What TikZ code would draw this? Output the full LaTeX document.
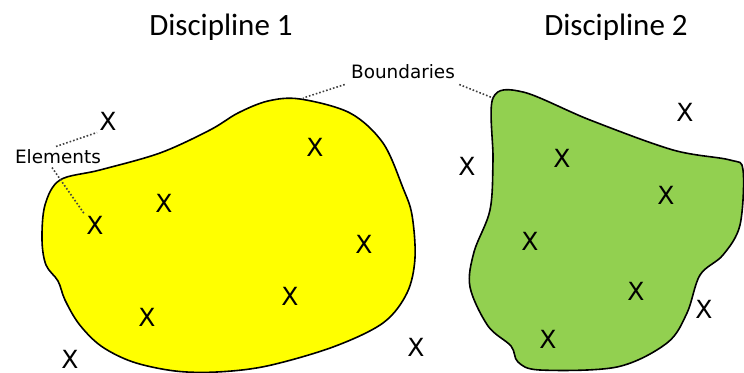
\documentclass[tikz,border=0pt]{standalone}
\usepackage{fontspec}
\setmainfont{Carlito}
\newfontfamily\labelfont{DejaVu Sans}
\usepackage{tikz}
\definecolor{blobYellow}{RGB}{255, 255, 0}
\definecolor{blobGreen}{RGB}{146, 208, 80}

\begin{document}
\begin{tikzpicture}[x=0.5pt, y=-0.5pt,
    elem/.style={font=\labelfont\fontsize{12.5}{14}\selectfont, inner sep=1pt},
    note/.style={font=\labelfont\fontsize{9.2}{11}\selectfont, inner sep=1pt},
    title/.style={font=\fontsize{15.5}{18}\selectfont},
    pointer/.style={densely dotted, thick, black!75}]
        \useasboundingbox (0,0) rectangle (744,373);
        % the two regions
        \draw[fill=blobYellow, thick] plot[smooth cycle, tension=0.55] coordinates {
            (60,180) (45,205) (42,240) (46,265) (58,281) (65,300) (79,324)
            (101,346) (133,362) (175,371) (217,372) (267,366) (333,347) (383,323)
            (407,293) (415,258) (412,215) (403,188) (383,143) (350,113) (300,99)
            (268,101) (238,113) (210,130) (160,153) (100,170)};
        \draw[fill=blobGreen, thick] plot[smooth cycle, tension=0.55] coordinates {
            (493,98) (523,92) (590,120) (673,150) (730,160) (743,170) (740,225)
            (723,255) (700,275) (687,313) (667,343) (617,367) (540,370) (518,362)
            (511,346) (488,326) (470,287) (474,252) (490,210) (493,160)};
        % points on the boundaries
        \coordinate (edgeA) at (303,98);
        \coordinate (edgeB) at (493,98);
        % titles
        \node[title] (disc1) at (221,27) {Discipline 1};
        \node[title] (disc2) at (616,27) {Discipline 2};
        % elements
        \node[elem] (a1) at (108,121) {X};
        \node[elem] (a2) at (315,147) {X};
        \node[elem] (a3) at (164,203) {X};
        \node[elem] (a4) at (95,225) {X};
        \node[elem] (a5) at (364,244) {X};
        \node[elem] (a6) at (290,296) {X};
        \node[elem] (a7) at (147,317) {X};
        \node[elem] (a8) at (70,359) {X};
        \node[elem] (a9) at (416,347) {X};
        \node[elem] (b1) at (467,166) {X};
        \node[elem] (b2) at (685,112) {X};
        \node[elem] (b3) at (562,158) {X};
        \node[elem] (b4) at (666,195) {X};
        \node[elem] (b5) at (530,241) {X};
        \node[elem] (b6) at (636,291) {X};
        \node[elem] (b7) at (704,309) {X};
        \node[elem] (b8) at (548,339) {X};
        % labels
        \node[note] (elements) at (58,157) {Elements};
        \node[note] (bounds) at (403,72) {Boundaries};
        \draw[pointer] (elements.north) ++(-2,-1) -- (a1.south west);
        \draw[pointer] (elements.south) ++(-6,1) -- (a4.north west);
        \draw[pointer] (bounds.south west) ++(-4,3) -- (edgeA);
        \draw[pointer] (bounds.south east) ++(2,3) -- (edgeB);
      \end{tikzpicture}
\end{document}
